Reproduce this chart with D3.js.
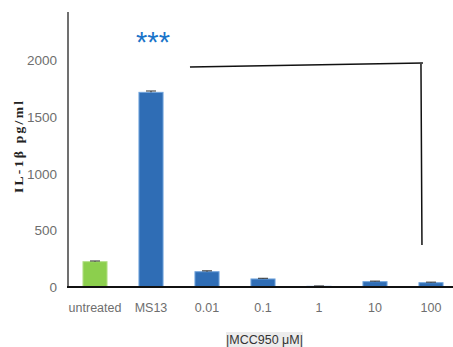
<!DOCTYPE html>
<html>
<head>
<meta charset="utf-8">
<script src="https://cdn.jsdelivr.net/npm/d3@7"></script>
<style>
  html, body { margin: 0; padding: 0; background: #fff; }
  svg { display: block; }
</style>
</head>
<body>
<svg id="chart" width="453" height="347"></svg>
<script>
// IL-1β release per condition
const categories = ["untreated", "MS13", "0.01", "0.1", "1", "10", "100"];
const values = [224, 1720, 135, 71, 6, 47, 38];
const errors = [6, 12, 8, 6, 3, 5, 5];
const barColors = ["#8ccf4d", "#2f6db5", "#2f6db5", "#2f6db5", "#2f6db5", "#2f6db5", "#2f6db5"];
const yTicks = [0, 500, 1000, 1500, 2000];

const svg = d3.select("#chart");

const x = d3.scaleBand()
  .domain(categories)
  .range([67, 459])
  .paddingInner(0.57)
  .paddingOuter(0.285);

const y = d3.scaleLinear()
  .domain([0, 2430])
  .range([287, 12]);

// bars
svg.selectAll("rect.bar")
  .data(categories)
  .join("rect")
  .attr("class", "bar")
  .attr("x", d => x(d))
  .attr("width", x.bandwidth())
  .attr("y", (d, i) => y(values[i]))
  .attr("height", (d, i) => y(0) - y(values[i]))
  .attr("fill", (d, i) => barColors[i])
  .attr("stroke", (d, i) => i === 0 ? "#b5e08a" : "#6fa3dc")
  .attr("stroke-width", 1);

// error bars
const eb = svg.selectAll("g.err")
  .data(categories)
  .join("g")
  .attr("class", "err");
eb.append("line")
  .attr("x1", d => x(d) + x.bandwidth() / 2)
  .attr("x2", d => x(d) + x.bandwidth() / 2)
  .attr("y1", (d, i) => y(values[i] + errors[i]))
  .attr("y2", (d, i) => y(values[i]))
  .attr("stroke", "#333").attr("stroke-width", 1);
eb.append("line")
  .attr("x1", d => x(d) + x.bandwidth() / 2 - 5)
  .attr("x2", d => x(d) + x.bandwidth() / 2 + 5)
  .attr("y1", (d, i) => y(values[i] + errors[i]))
  .attr("y2", (d, i) => y(values[i] + errors[i]))
  .attr("stroke", "#333").attr("stroke-width", 1);

// y axis
const yAxis = d3.axisLeft(y).tickValues(yTicks).tickFormat(d3.format("d")).tickSize(0).tickPadding(11);
const gy = svg.append("g").attr("transform", "translate(68,0)").call(yAxis);
gy.select(".domain").remove();
gy.selectAll("text")
  .attr("font-family", "Liberation Sans, sans-serif")
  .attr("font-size", 13.5)
  .attr("fill", "#6e6e6e");
svg.append("line")
  .attr("x1", 68).attr("x2", 68)
  .attr("y1", y(2430)).attr("y2", y(0))
  .attr("stroke", "#707070").attr("stroke-width", 2);

// x axis
const xAxis = d3.axisBottom(x).tickSize(0).tickPadding(16);
const gx = svg.append("g").attr("transform", `translate(0,${y(0)})`).call(xAxis);
gx.select(".domain").remove();
gx.selectAll("text")
  .attr("font-family", "Liberation Sans, sans-serif")
  .attr("font-size", 12.5)
  .attr("fill", "#6e6e6e");
svg.append("line")
  .attr("x1", 67).attr("x2", 453)
  .attr("y1", y(0)).attr("y2", y(0))
  .attr("stroke", "#111").attr("stroke-width", 2);

// y axis title
svg.append("text")
  .attr("transform", `translate(23,147) rotate(-90)`)
  .attr("text-anchor", "middle")
  .attr("font-family", "Liberation Serif, serif")
  .attr("font-weight", "bold")
  .attr("font-size", 13.5)
  .attr("textLength", 92)
  .attr("lengthAdjust", "spacing")
  .attr("fill", "#222")
  .text("IL-1β pg/ml");

// x axis group title
const xt = svg.append("g");
xt.append("rect")
  .attr("x", 226).attr("y", 332).attr("width", 77).attr("height", 15)
  .attr("fill", "#ececec");
xt.append("text")
  .attr("x", 264.5).attr("y", 344)
  .attr("text-anchor", "middle")
  .attr("font-family", "Liberation Sans, sans-serif")
  .attr("font-size", 12.5)
  .attr("fill", "#333")
  .text("|MCC950 μM|");

// significance marker
svg.append("text")
  .attr("x", x("MS13") + x.bandwidth() / 2 + 2)
  .attr("y", 52)
  .attr("text-anchor", "middle")
  .attr("font-family", "Liberation Sans, sans-serif")
  .attr("font-size", 29)
  .attr("fill", "#1a74c9")
  .text("***");

// comparison bracket
const bx0 = x("0.01") - 5, bx1 = x("100") + 2;
svg.append("path")
  .attr("d", `M${bx0},${y(1944)} L${bx1 + 2},${y(1979)} M${bx1},${y(1979)} L${bx1 + 1},${y(371)}`)
  .attr("fill", "none")
  .attr("stroke", "#111")
  .attr("stroke-width", 1.5);
</script>
</body>
</html>
